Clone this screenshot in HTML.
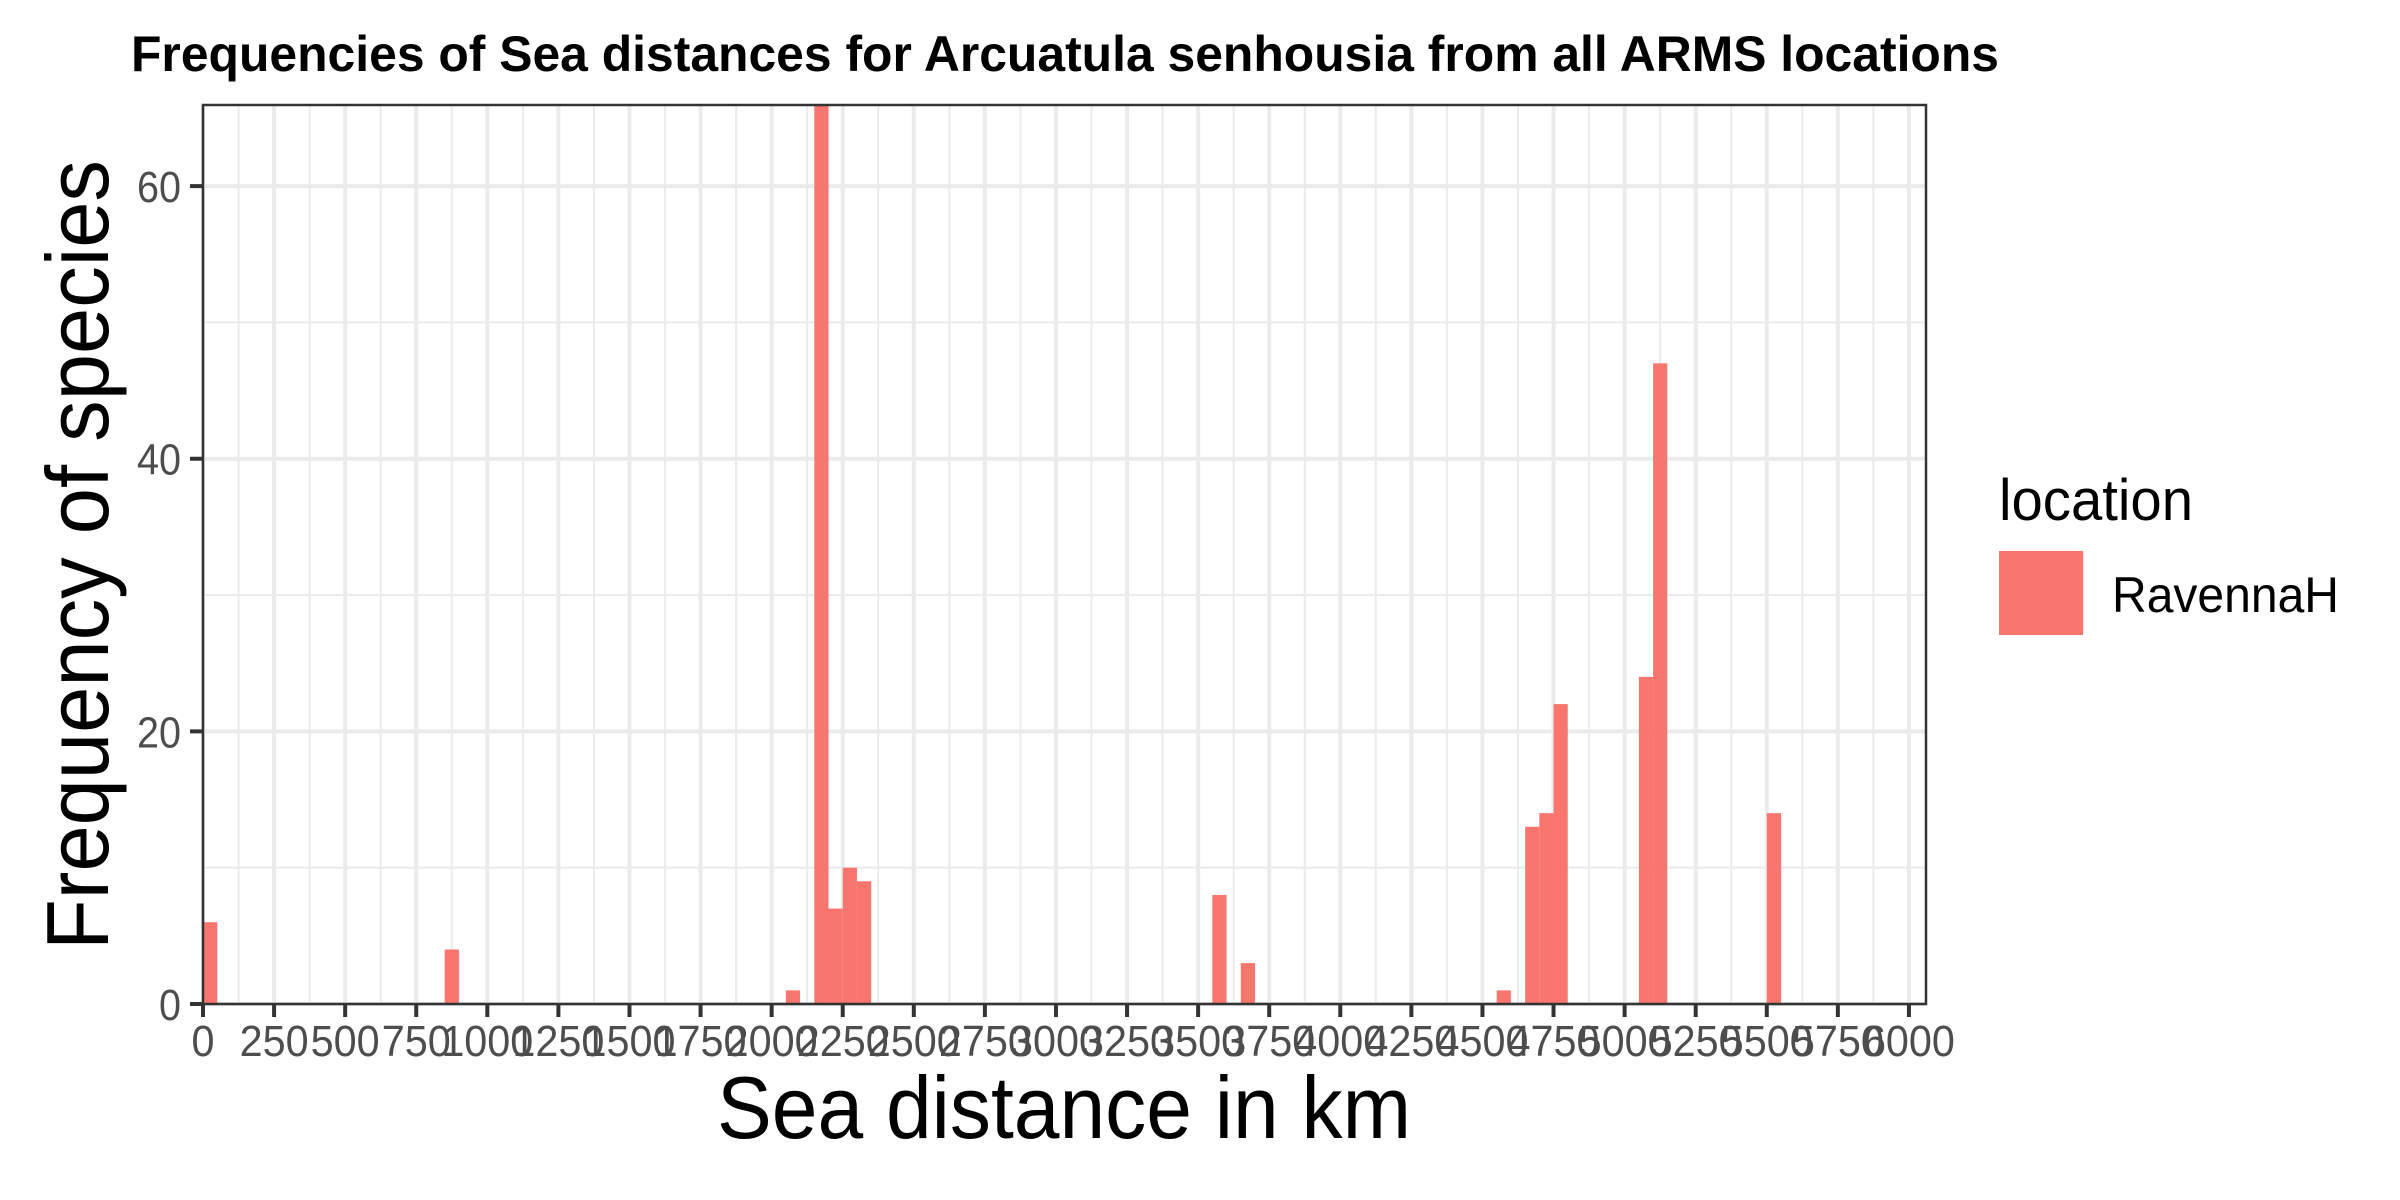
<!DOCTYPE html>
<html><head><meta charset="utf-8"><style>
html,body{margin:0;padding:0;background:#fff;}
svg{display:block;}
text{font-family:"Liberation Sans","DejaVu Sans",sans-serif;}
</style></head><body>
<svg id="chart" width="2400" height="1200" viewBox="0 0 2400 1200" xmlns="http://www.w3.org/2000/svg">
<rect x="0" y="0" width="2400" height="1200" fill="#fff"/>
<text x="131" y="71" font-size="50" font-weight="bold" textLength="1868" lengthAdjust="spacingAndGlyphs" fill="#000">Frequencies of Sea distances for Arcuatula senhousia from all ARMS locations</text>
<g id="grid"></g>
<g id="bars"></g>
<rect x="203" y="105" width="1723" height="899" fill="none" stroke="#333" stroke-width="2.5"/>
<g id="axes"></g>
<text x="1064" y="1138" font-size="88" text-anchor="middle" textLength="694" lengthAdjust="spacingAndGlyphs" fill="#000">Sea distance in km</text>
<text transform="translate(108,555) rotate(-90)" font-size="88" text-anchor="middle" textLength="790" lengthAdjust="spacingAndGlyphs" fill="#000">Frequency of species</text>
<g>
<text x="1999" y="520" font-size="58" textLength="194" lengthAdjust="spacingAndGlyphs" fill="#000">location</text>
<rect x="1999" y="551" width="84" height="84" fill="#F8766D"/>
<text x="2112" y="612" font-size="50" textLength="227" lengthAdjust="spacingAndGlyphs" fill="#000">RavennaH</text>
</g>
</svg>
<script>
const binStarts = [0, 850, 2050, 2150, 2200, 2250, 2300, 3550, 3650, 4550, 4650, 4700, 4750, 5050, 5100, 5500];
const counts = [6, 4, 1, 66, 7, 10, 9, 8, 3, 1, 13, 14, 22, 24, 47, 14];
const binWidth = 50;
const xTicks = [0,250,500,750,1000,1250,1500,1750,2000,2250,2500,2750,3000,3250,3500,3750,4000,4250,4500,4750,5000,5250,5500,5750,6000];
const yTicks = [0,20,40,60];
const yMinor = [10,30,50];

const NS = "http://www.w3.org/2000/svg";
const PL = 203, PR = 1926, PT = 105, PB = 1004;
const X_MIN = 0, X_MAX = 6060, Y_MIN = 0, Y_MAX = 65.95;
function xs(v){ return PL + (v - X_MIN) / (X_MAX - X_MIN) * (PR - PL); }
function ys(v){ return PB - (v - Y_MIN) / (Y_MAX - Y_MIN) * (PB - PT); }
function mk(tag, attrs, parent){
  const e = document.createElementNS(NS, tag);
  for (const k in attrs) e.setAttribute(k, attrs[k]);
  parent.appendChild(e);
  return e;
}
const grid = document.getElementById('grid');
const bars = document.getElementById('bars');
const axes = document.getElementById('axes');

for (let i = 0; i < xTicks.length - 1; i++) {
  const v = (xTicks[i] + xTicks[i+1]) / 2;
  const l = mk('line', {x1: xs(v), x2: xs(v), y1: PT, y2: PB, stroke: '#ebebeb', 'stroke-width': 2}, grid);
  
  
}
yMinor.forEach(v => {
  const l = mk('line', {x1: PL, x2: PR, y1: ys(v), y2: ys(v), stroke: '#ebebeb', 'stroke-width': 2}, grid);
  
  
});
xTicks.forEach(v => {
  const l = mk('line', {x1: xs(v), x2: xs(v), y1: PT, y2: PB, stroke: '#ebebeb', 'stroke-width': 4}, grid);
  
  
});
yTicks.forEach(v => {
  const l = mk('line', {x1: PL, x2: PR, y1: ys(v), y2: ys(v), stroke: '#ebebeb', 'stroke-width': 4}, grid);
  
  
});

binStarts.forEach((s, i) => {
  const x0 = xs(s), x1 = xs(s + binWidth);
  const top = Math.max(PT, ys(counts[i]));
  const r = mk('rect', {x: x0, y: top, width: x1 - x0, height: PB - top, fill: '#F8766D'}, bars);
  
  
});

xTicks.forEach(v => {
  const t = mk('line', {x1: xs(v), x2: xs(v), y1: PB, y2: PB + 13, stroke: '#333', 'stroke-width': 4}, axes);
  
  
  const s = String(v);
  const tx = mk('text', {x: xs(v), y: 1056, 'font-size': 44, 'text-anchor': 'middle', fill: '#4d4d4d', textLength: s.length * 23, lengthAdjust: 'spacingAndGlyphs'}, axes);
  tx.textContent = s;
  
  
});
yTicks.forEach(v => {
  const t = mk('line', {x1: PL - 13, x2: PL, y1: ys(v), y2: ys(v), stroke: '#333', 'stroke-width': 4}, axes);
  
  
  const s = String(v);
  const tx = mk('text', {x: 181, y: ys(v) + 16, 'font-size': 44, 'text-anchor': 'end', fill: '#4d4d4d', textLength: s.length * 22, lengthAdjust: 'spacingAndGlyphs'}, axes);
  tx.textContent = s;
  
  
});
</script>
</body></html>
